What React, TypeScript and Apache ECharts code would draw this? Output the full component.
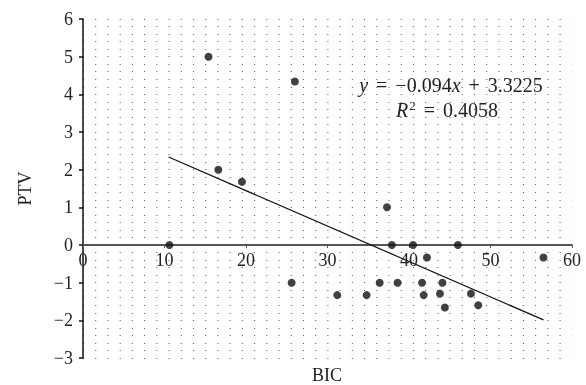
import React, { useEffect, useRef } from "react";
import * as echarts from "echarts";

const bicValues = [10.6, 15.4, 16.6, 19.5, 26.0, 25.6, 31.2, 34.8, 36.4, 37.3, 37.9, 38.6, 40.5, 42.2, 41.6, 41.8, 43.8, 44.1, 44.4, 46.0, 47.6, 48.5, 56.5];
const ptvValues = [0, 5.0, 2.0, 1.68, 4.34, -1.0, -1.33, -1.33, -1.0, 1.0, 0, -1.0, 0, -0.33, -1.0, -1.33, -1.29, -1.0, -1.66, 0, -1.29, -1.6, -0.33];
const trendSlope = -0.094;
const trendIntercept = 3.3225;
const trendRange = [10.5, 56.5];
const xTicks = [0, 10, 20, 30, 40, 50, 60];
const yTicks = [-3, -2, -1, 0, 1, 2, 3, 4, 5, 6];

const FONT = "'Liberation Serif', 'DejaVu Serif', serif";
const GRID_TOP = 19;
const GRID_BOTTOM = 27;
const HEIGHT = 385;

export default function App() {
  const ref = useRef<HTMLDivElement>(null);
  useEffect(() => {
    if (!ref.current) return;
    const chart = echarts.init(ref.current, undefined, { renderer: "svg" });
    const points = bicValues.map((x, i) => [x, ptvValues[i]]);
    const trend = trendRange.map((x) => [x, trendSlope * x + trendIntercept]);
    const yMin = yTicks[0];
    const yMax = yTicks[yTicks.length - 1];
    const gridH = HEIGHT - GRID_TOP - GRID_BOTTOM;
    const zeroOffset = -((0 - yMin) / (yMax - yMin)) * gridH;
    chart.setOption({
      animation: false,
      grid: { left: 83, right: 14, top: GRID_TOP, bottom: GRID_BOTTOM, containLabel: false, outerBoundsMode: "none" },
      xAxis: {
        type: "value",
        min: xTicks[0],
        max: xTicks[xTicks.length - 1],
        interval: 10,
        offset: zeroOffset,
        axisLine: { onZero: false, lineStyle: { color: "#555", width: 2 } },
        axisTick: { show: true, inside: false, length: 3, lineStyle: { color: "#555", width: 1 } },
        axisLabel: { fontFamily: FONT, fontSize: 18, color: "#222", margin: 6 },
        splitLine: { show: false },
      },
      yAxis: {
        type: "value",
        min: yMin,
        max: yMax,
        interval: 1,
        name: "PTV",
        nameLocation: "middle",
        nameGap: 49,
        nameTextStyle: { fontFamily: FONT, fontSize: 18, color: "#222" },
        axisLine: { onZero: false, lineStyle: { color: "#111", width: 1.5 } },
        axisTick: { show: true, length: 4, lineStyle: { color: "#111", width: 1.5 } },
        axisLabel: {
          fontFamily: FONT,
          fontSize: 18,
          color: "#222",
          margin: 10,
          formatter: (v: number) => (v < 0 ? "\u2212" + Math.abs(v) : String(v)),
        },
        splitLine: { show: true, lineStyle: { color: "#555", width: 1, type: [1, 11.22] } },
        minorTick: { show: false, splitNumber: 5 },
        minorSplitLine: { show: true, lineStyle: { color: "#555", width: 1, type: [1, 11.22] } },
      },
      series: [
        {
          type: "scatter",
          data: points,
          symbolSize: 8,
          itemStyle: { color: "#111" },
          z: 5,
        },
        {
          type: "line",
          data: trend,
          showSymbol: false,
          lineStyle: { color: "#111", width: 1.2 },
          z: 4,
        },
      ],
      graphic: [
        {
          type: "text",
          x: 327,
          y: 375,
          style: {
            text: "BIC",
            align: "center",
            verticalAlign: "middle",
            font: `18px ${FONT}`,
            fill: "#222",
          },
        },
        {
          type: "text",
          x: 451,
          y: 85,
          style: {
            text: "{i|y}{o|=}\u22120.094{i|x}{o|+}3.3225",
            align: "center",
            verticalAlign: "middle",
            font: `20px ${FONT}`,
            fill: "#222",
            rich: {
              i: { fontStyle: "italic", fontFamily: FONT, fontSize: 20, fill: "#222" },
              o: { fontFamily: FONT, fontSize: 20, fill: "#222", padding: [0, 8, 0, 8] },
            },
          },
        },
        {
          type: "text",
          x: 447,
          y: 110,
          style: {
            text: "{i|R}{s|2}{o|=}0.4058",
            align: "center",
            verticalAlign: "middle",
            font: `20px ${FONT}`,
            fill: "#222",
            rich: {
              i: { fontStyle: "italic", fontFamily: FONT, fontSize: 20, fill: "#222" },
              s: { fontFamily: FONT, fontSize: 13, fill: "#222", verticalAlign: "top", padding: [0, 0, 9, 1] },
              o: { fontFamily: FONT, fontSize: 20, fill: "#222", padding: [0, 8, 0, 8] },
            },
          },
        },
      ],
    });
    return () => chart.dispose();
  }, []);
  return <div ref={ref} style={{ position: "fixed", left: 0, top: 0, width: 586, height: HEIGHT }} />;
}
